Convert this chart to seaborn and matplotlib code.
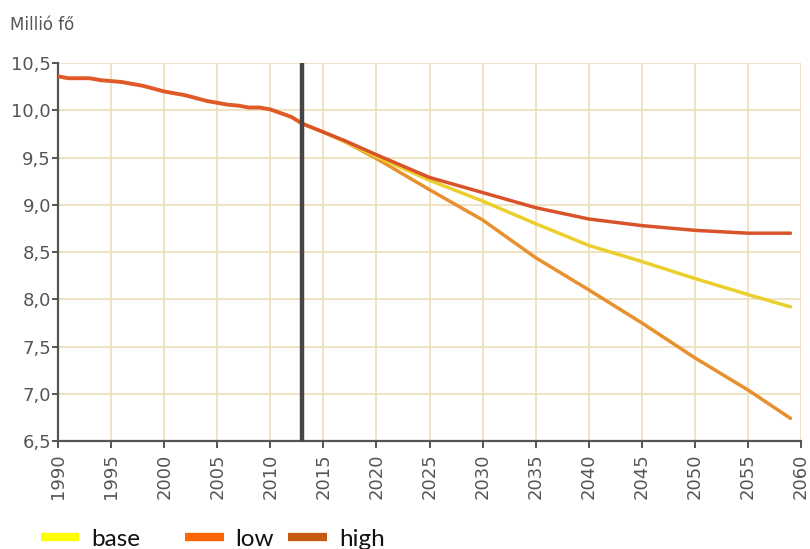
import matplotlib
matplotlib.use("Agg")
import matplotlib.pyplot as plt
from matplotlib.lines import Line2D
from matplotlib.ticker import FuncFormatter
import seaborn as sns
import pandas as pd

# Observed population, million people
hist_years = list(range(1990, 2014))
hist_values = [10.36, 10.34, 10.34, 10.34, 10.32, 10.31, 10.30, 10.28, 10.26, 10.23,
               10.20, 10.18, 10.16, 10.13, 10.10, 10.08, 10.06, 10.05, 10.03, 10.03,
               10.01, 9.97, 9.93, 9.86]

# Projection scenarios, million people
proj_years = [2013, 2015, 2017, 2020, 2025, 2030, 2035, 2040, 2045, 2050, 2055, 2059]
base = [9.86, 9.77, 9.67, 9.51, 9.26, 9.04, 8.80, 8.57, 8.40, 8.22, 8.05, 7.92]
low = [9.86, 9.77, 9.67, 9.49, 9.16, 8.84, 8.44, 8.10, 7.75, 7.38, 7.04, 6.74]
high = [9.86, 9.77, 9.68, 9.53, 9.29, 9.13, 8.97, 8.85, 8.78, 8.73, 8.70, 8.70]

scenario_names = ["base", "low", "high"]
line_colors = {"base": "#ebcf2c", "low": "#e8902e", "high": "#d9532a"}
legend_colors = {"base": "#ffff00", "low": "#ff6600", "high": "#c55a11"}

x_ticks = list(range(1990, 2061, 5))
y_ticks = [6.5, 7.0, 7.5, 8.0, 8.5, 9.0, 9.5, 10.0, 10.5]
base_year = 2013

sns.set_theme(style="white")
plt.rcParams["font.family"] = ["Liberation Sans Narrow", "DejaVu Sans"]

hist_df = pd.DataFrame({"year": hist_years, "value": hist_values})
proj_df = pd.DataFrame({
    "year": proj_years * 3,
    "value": base + low + high,
    "scenario": [s for s in scenario_names for _ in proj_years],
})

fig = plt.figure(figsize=(8.1, 5.49), dpi=100)
ax = fig.add_axes([0.0716, 0.1967, 0.9174, 0.6883])

grid_col = "#eee0bd"
for xt in x_ticks:
    ax.axvline(xt, color=grid_col, lw=1.3, zorder=0)
for yt in y_ticks:
    ax.axhline(yt, color=grid_col, lw=1.3, zorder=0)

sns.lineplot(data=proj_df, x="year", y="value", hue="scenario",
             hue_order=["low", "base", "high"], palette=line_colors,
             linewidth=2.5, legend=False, ax=ax, zorder=3)
sns.lineplot(data=hist_df, x="year", y="value", color="#e05a28",
             linewidth=2.8, legend=False, ax=ax, zorder=4)

ax.axvline(base_year, color="#454545", lw=3.2, zorder=5)

ax.set_xlim(1990, 2060)
ax.set_ylim(6.5, 10.5)
ax.set_xticks(x_ticks)
ax.set_yticks(y_ticks)
ax.yaxis.set_major_formatter(FuncFormatter(lambda v, p: f"{v:.1f}".replace(".", ",")))
ax.set_xlabel("")
ax.set_ylabel("")

for side in ["top", "right"]:
    ax.spines[side].set_visible(False)
for side in ["left", "bottom"]:
    ax.spines[side].set_color("#555555")
    ax.spines[side].set_linewidth(1.6)

ax.tick_params(axis="x", labelrotation=90, labelsize=13, colors="#555555",
               length=5, width=1.4, direction="out", bottom=True, pad=4)
ax.tick_params(axis="y", labelsize=13, colors="#555555",
               length=4, width=1.4, direction="out", left=True, pad=1)

fig.text(0.012, 0.955, "Millió fő", fontsize=12, color="#555555", va="center", ha="left")

# One legend entry per scenario, laid out along the bottom edge
legend_x = {"base": 0.050, "low": 0.228, "high": 0.356}
for name in scenario_names:
    handle = Line2D([0], [0], color=legend_colors[name], lw=6, solid_capstyle="butt")
    fig.legend([handle], [name], loc="center left",
               bbox_to_anchor=(legend_x[name], 0.018), frameon=False,
               handlelength=1.6, handletextpad=0.5, borderpad=0, borderaxespad=0,
               labelcolor="#111111",
               prop={"family": ["Lato", "DejaVu Sans"], "size": 17.5})

fig.savefig("out.png", dpi=100)
